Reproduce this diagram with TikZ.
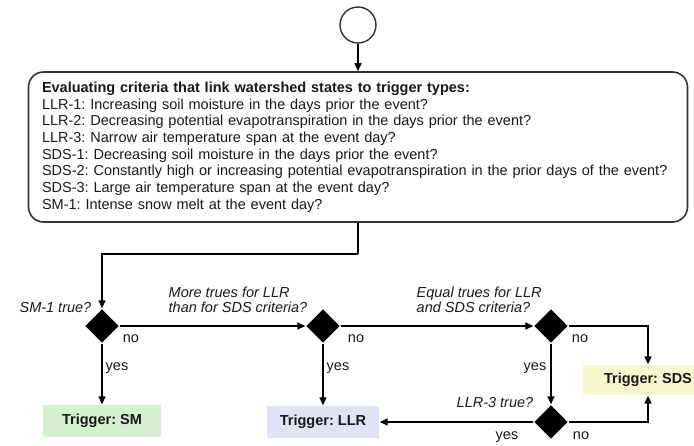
\documentclass[tikz,border=0pt]{standalone}
\usepackage{fontspec}
\setmainfont{Liberation Sans}
\usepackage{tikz}
\usetikzlibrary{
  arrows.meta,
  shapes.geometric,
  chains,
  positioning,
  scopes
}
\definecolor{smgreen}{RGB}{212,240,206}
\definecolor{llrblue}{RGB}{226,226,246}
\definecolor{sdsyellow}{RGB}{247,247,206}
\frenchspacing

\begin{document}
\begin{tikzpicture}[
      x=1pt,y=-1pt,
      startnode/.style={
         circle,
         draw=black!80,
         line width=1.4pt,
         minimum size=36pt
      },
      criteria/.style={
         rectangle,
         rounded corners=15pt,
         draw=black!80,
         line width=1.6pt,
         minimum width=659pt,
         minimum height=150pt,
         text width=632pt,
         align=left,
         text=black!90,
         font=\fontsize{14.5}{16.7}\selectfont
      },
      decision/.style={
         diamond,
         fill=black,
         inner sep=0pt,
         minimum width=34pt,
         minimum height=34pt
      },
      trigger/.style={
         rectangle,
         minimum height=32pt,
         text=black!90,
         font=\bfseries\fontsize{14.5}{16}\selectfont
      },
      question/.style={
         align=left,
         inner sep=0pt,
         text=black!90,
         font=\itshape\fontsize{14.5}{14.5}\selectfont
      },
      answer/.style={inner sep=0pt,text=black!90,font=\fontsize{14.5}{16}\selectfont},
      point/.style={coordinate},>={Triangle[length=8pt,width=7pt]},line width=1.4pt,
      tip/.style={->,shorten >=0.007pt},
      hv path/.style={to path={-| (\tikztotarget)}},
      vh path/.style={to path={|- (\tikztotarget)}}
    ]
    \useasboundingbox (0,0) rectangle (694,445);
    % start and criteria
    \node (start) [startnode] at (358,25) {};
    \node (criteria) [criteria] at (358,147) {\textbf{Evaluating criteria that link watershed states to trigger types:}\\
      LLR-1: Increasing soil moisture in the days prior the event?\\
      LLR-2: Decreasing potential evapotranspiration in the days prior the event?\\
      LLR-3: Narrow air temperature span at the event day?\\
      SDS-1: Decreasing soil moisture in the days prior the event?\\
      SDS-2: Constantly high or increasing potential evapotranspiration in the prior days of the event?\\
      SDS-3: Large air temperature span at the event day?\\
      SM-1: Intense snow melt at the event day?};
    \node (split) [point] at (358,254) {};
    % decisions
    \node (smq) [decision] at (102,326) {};
    \node (llrq) [decision] at (323,326) {};
    \node (eqq) [decision] at (551,326) {};
    \node (llrthreeq) [decision] at (551,422) {};
    % triggers
    \node (sm) [trigger, fill=smgreen, minimum width=118pt] at (102,421) {Trigger: SM};
    \node (llr) [trigger, fill=llrblue, minimum width=112pt] at (323,422) {Trigger: LLR};
    \node (sds) [trigger, fill=sdsyellow, minimum width=130pt, minimum height=30pt] at (648,380) {Trigger: SDS};
    % questions
    \node (smqtext) [question, anchor=east] at (92,308) {SM-1 true?};
    \node (llrqtext) [question, anchor=west] at (168,300) {More trues for LLR\\than for SDS criteria?};
    \node (eqqtext) [question, anchor=west] at (416,300) {Equal trues for LLR\\and SDS criteria?};
    \node (llrthreeqtext) [question] at (495,403) {LLR-3 true?};
    % answers
    \node (smno) [answer] at (131,339) {no};
    \node (smyes) [answer] at (117,368) {yes};
    \node (llrqno) [answer] at (356,339) {no};
    \node (llrqyes) [answer] at (338,368) {yes};
    \node (eqqno) [answer] at (580,339) {no};
    \node (eqqyes) [answer] at (535,368) {yes};
    \node (llrthreeqno) [answer] at (581,436) {no};
    \node (llrthreeqyes) [answer] at (507,437) {yes};
  { [start chain]
       \chainin (start);
       \chainin (criteria)    [join=by tip];
  }
  { [start chain]
       \chainin (criteria);
       \chainin (split)    [join];
       \chainin (smq)    [join=by {hv path,tip}];
  }
  { [start chain]
       \chainin (smq);
       \chainin (sm)    [join=by tip];
  }
  { [start chain]
       \chainin (smq);
       \chainin (llrq)    [join=by tip];
  }
  { [start chain]
       \chainin (llrq);
       \chainin (llr)    [join=by tip];
  }
  { [start chain]
       \chainin (llrq);
       \chainin (eqq)    [join=by tip];
  }
  { [start chain]
       \chainin (eqq);
       \chainin (sds)    [join=by {hv path,tip}];
  }
  { [start chain]
       \chainin (eqq);
       \chainin (llrthreeq)    [join=by tip];
  }
  { [start chain]
       \chainin (llrthreeq);
       \chainin (llr)    [join=by tip];
  }
  { [start chain]
       \chainin (llrthreeq);
       \chainin (sds)    [join=by {hv path,tip}];
  }
\end{tikzpicture}
\end{document}
